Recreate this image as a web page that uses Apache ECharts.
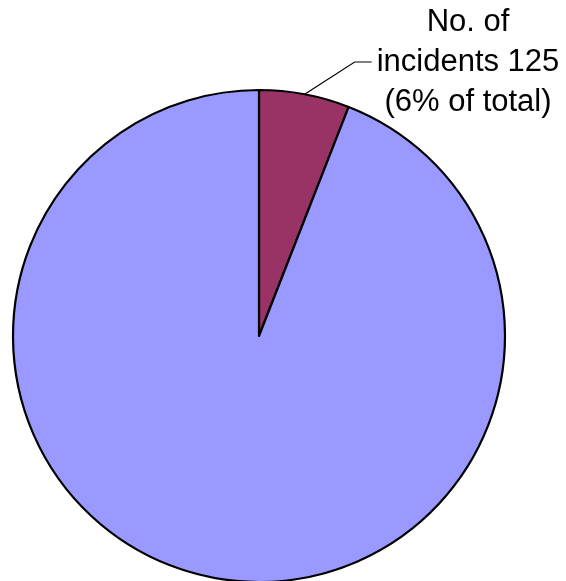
<!DOCTYPE html>
<html>
<head>
<meta charset="utf-8">
<script src="https://cdn.jsdelivr.net/npm/echarts@6/dist/echarts.min.js"></script>
<style>
html,body{margin:0;padding:0;background:#fff;}
#chart{width:566px;height:581px;}
</style>
</head>
<body>
<div id="chart"></div>
<script>
// Data
var categories = ['No. of incidents', 'Other'];
var values = [125, 1980];
var colors = ['#993366', '#9999FF'];

var chart = echarts.init(document.getElementById('chart'), null, {renderer: 'canvas'});

var pieData = categories.map(function (name, i) {
  return {
    name: name,
    value: values[i],
    itemStyle: {color: colors[i]},
    label: {show: i === 0},
    labelLine: {show: i === 0}
  };
});

var LABEL_X = 468, LABEL_Y = 62;

chart.setOption({
  animation: false,
  backgroundColor: '#ffffff',
  series: [{
    type: 'pie',
    center: [259, 336],
    radius: 246,
    startAngle: 90,
    clockwise: true,
    avoidLabelOverlap: false,
    silent: true,
    itemStyle: {borderColor: '#000000', borderWidth: 2.2},
    label: {
      position: 'outside',
      fontFamily: 'Liberation Sans, Arial, sans-serif',
      fontSize: 31,
      lineHeight: 40,
      color: '#000000',
      align: 'center',
      formatter: function (p) {
        return 'No. of\nincidents ' + p.value + '\n(' + Math.round(p.percent) + '% of total)';
      }
    },
    labelLine: {
      show: true,
      lineStyle: {color: '#000000', width: 1.2}
    },
    labelLayout: function (params) {
      var w = params.labelRect.width;
      var start = params.labelLinePoints ? params.labelLinePoints[0] : [304, 94];
      var endX = LABEL_X - w / 2 - 5;
      return {
        x: LABEL_X,
        y: LABEL_Y,
        align: 'center',
        verticalAlign: 'middle',
        labelLinePoints: [start, [endX - 17, LABEL_Y], [endX, LABEL_Y]]
      };
    },
    data: pieData
  }]
});
</script>
</body>
</html>
